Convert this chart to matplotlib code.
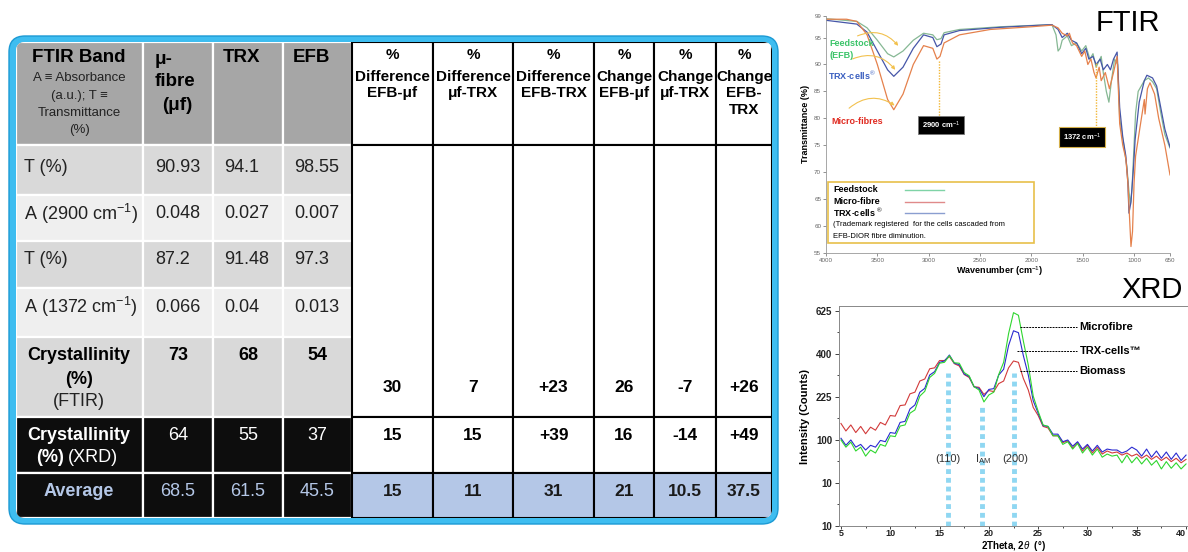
import numpy as np
import matplotlib
matplotlib.use("Agg")
import matplotlib.pyplot as plt
from matplotlib.patches import FancyBboxPatch, Rectangle, FancyArrowPatch

plt.rcParams['font.family'] = ['Liberation Sans', 'DejaVu Sans']
plt.rcParams['mathtext.fontset'] = 'custom'
plt.rcParams['mathtext.rm'] = 'Liberation Sans'
plt.rcParams['mathtext.it'] = 'Liberation Sans:italic'
plt.rcParams['mathtext.bf'] = 'Liberation Sans:bold'

# ---------------- table data ----------------
band_rows = ["T (%)", "A (2900 cm$^{-1}$)", "T (%)", "A (1372 cm$^{-1}$)"]
micro_fibre = [90.93, 0.048, 87.2, 0.066, 73, 64, 68.5]
trx_cells = [94.1, 0.027, 91.48, 0.04, 68, 55, 61.5]
efb = [98.55, 0.007, 97.3, 0.013, 54, 37, 45.5]
cmp_kind = ["Difference", "Difference", "Difference", "Change", "Change", "Change"]
cmp_pair = ["EFB-μf", "μf-TRX", "EFB-TRX", "EFB-μf", "μf-TRX", "EFB-\nTRX"]
cmp_ftir = ["30", "7", "+23", "26", "-7", "+26"]
cmp_xrd = ["15", "15", "+39", "16", "-14", "+49"]
cmp_avg = ["15", "11", "31", "21", "10.5", "37.5"]

# ---------------- FTIR spectra (wavenumber, transmittance %) ----------------
feed_wn = [4000, 3700, 3600, 3500, 3400, 3340, 3250, 3150, 3050, 2960, 2920, 2880, 2850,
           2700, 2300, 1800, 1760, 1740, 1720, 1700, 1650, 1610, 1560, 1510, 1470, 1430,
           1400, 1370, 1320, 1300, 1270, 1245, 1220, 1190, 1160, 1140, 1100, 1070, 1050,
           1035, 1020, 1000, 985, 960, 900, 860, 820, 780, 740, 700, 650]
feed_t = [98.5, 98.0, 96.8, 94.5, 92.0, 91.4, 92.5, 94.5, 95.8, 95.5, 94.6, 94.8, 95.9,
          96.5, 97.0, 97.4, 95.5, 92.5, 93.0, 94.5, 95.3, 93.5, 94.0, 92.5, 93.5, 91.0,
          92.0, 89.5, 91.5, 88.5, 85.0, 83.0, 87.0, 91.0, 90.0, 80.0, 75.0, 71.0, 66.5,
          64.0, 67.0, 75.0, 81.0, 85.0, 87.0, 87.5, 86.8, 85.5, 81.0, 77.0, 74.5]

micro_wn = [4000, 3800, 3700, 3600, 3500, 3400, 3340, 3250, 3150, 3050, 2960, 2920, 2890,
            2850, 2700, 2400, 2000, 1800, 1740, 1700, 1650, 1630, 1600, 1560, 1510, 1480,
            1450, 1420, 1390, 1370, 1340, 1320, 1280, 1240, 1200, 1165, 1140, 1110, 1080,
            1060, 1040, 1030, 1015, 1000, 985, 945, 900, 893, 870, 845, 800, 760, 700, 650]
micro_t = [98.4, 98.4, 98.0, 95.5, 90.0, 83.5, 81.6, 84.5, 90.0, 93.5, 93.0, 91.0, 91.5,
           94.0, 95.5, 96.5, 97.0, 97.3, 96.8, 95.8, 95.3, 95.8, 94.0, 93.5, 91.5, 92.5,
           90.0, 91.0, 88.5, 87.5, 89.5, 87.0, 88.5, 85.5, 88.5, 91.5, 79.0, 75.0, 72.5,
           68.0, 60.0, 56.2, 59.0, 68.0, 73.0, 78.0, 83.5, 80.8, 85.5, 86.6, 84.5, 80.0,
           75.0, 69.5]

trx_wn = [4000, 3700, 3600, 3500, 3400, 3340, 3250, 3150, 3050, 2960, 2920, 2880, 2850,
          2700, 2300, 1800, 1740, 1700, 1650, 1610, 1560, 1510, 1470, 1440, 1400, 1370,
          1330, 1300, 1260, 1230, 1200, 1165, 1140, 1110, 1080, 1060, 1050, 1030, 1005,
          990, 950, 900, 875, 820, 780, 740, 700, 650]
trx_t = [98.2, 97.5, 96.0, 92.5, 89.0, 87.8, 89.5, 93.0, 95.5, 95.0, 93.3, 93.8, 95.5,
         96.3, 96.9, 97.4, 96.5, 95.0, 95.8, 94.5, 94.0, 92.0, 93.0, 91.0, 91.5, 90.0,
         91.0, 89.0, 90.0, 89.0, 91.0, 92.3, 82.0, 76.5, 73.0, 68.0, 62.4, 64.5, 71.0,
         76.0, 83.0, 87.0, 88.0, 87.5, 86.0, 82.0, 78.0, 74.7]

# ---------------- XRD patterns (2theta, counts) ----------------
two_theta = [5.0, 5.5, 6.0, 6.5, 7.0, 7.5, 8.0, 8.5, 9.0, 9.5, 10.0, 10.5, 11.0, 11.5,
             12.0, 12.5, 13.0, 13.5, 14.0, 14.5, 15.0, 15.5, 16.0, 16.5, 17.0, 17.5,
             18.0, 18.5, 19.0, 19.5, 20.0, 20.5, 21.0, 21.5, 22.0, 22.5, 23.0, 23.5,
             24.0, 24.5, 25.0, 25.5, 26.0, 26.5, 27.0, 27.5, 28.0, 28.5, 29.0, 29.5,
             30.0, 30.5, 31.0, 31.5, 32.0, 32.5, 33.0, 33.5, 34.0, 34.5, 35.0, 35.5,
             36.0, 36.5, 37.0, 37.5, 38.0, 38.5, 39.0, 39.5, 40.0]
xrd_microfibre = [100, 84, 95, 76, 84, 66, 78, 72, 90, 86, 110, 108, 135, 138,
                  172, 182, 228, 245, 298, 315, 358, 362, 392, 360, 358, 318,
                  305, 262, 250, 208, 232, 242, 310, 362, 500, 615, 600, 462,
                  350, 228, 178, 138, 134, 110, 110, 90, 96, 80, 92, 72,
                  84, 68, 80, 64, 70, 66, 68, 54, 68, 54, 64, 52,
                  62, 50, 58, 44, 56, 45, 54, 44, 52]
xrd_trx = [104, 88, 100, 84, 90, 78, 88, 84, 99, 96, 118, 116, 145, 148,
           185, 198, 242, 256, 308, 322, 362, 368, 395, 358, 352, 312,
           302, 262, 256, 226, 252, 255, 308, 332, 440, 515, 505, 392,
           308, 212, 172, 136, 134, 114, 114, 96, 100, 86, 96, 80,
           90, 76, 88, 74, 80, 78, 78, 72, 76, 84, 78, 66,
           80, 64, 76, 62, 74, 60, 72, 58, 68]
xrd_biomass = [142, 122, 138, 118, 134, 115, 132, 124, 145, 138, 165, 163, 196, 198,
               236, 242, 284, 292, 334, 338, 370, 370, 388, 356, 346, 310,
               298, 262, 260, 234, 248, 244, 274, 284, 338, 368, 362, 294,
               250, 190, 165, 134, 130, 110, 110, 94, 98, 82, 94, 76,
               88, 72, 84, 70, 76, 72, 74, 68, 72, 66, 70, 62,
               68, 60, 66, 58, 64, 56, 62, 54, 60]
peak_positions = [15.85, 19.3, 22.5]
peak_labels = ["(110)", "I$_{\\rm AM}$", "(200)"]

W, H = 1188, 552
fig = plt.figure(figsize=(W / 100, H / 100), dpi=100)
fig.patch.set_facecolor('white')


def fig_rect(x0, y0, x1, y1):
    return [x0 / W, 1 - y1 / H, (x1 - x0) / W, (y1 - y0) / H]


# ---------------- FTIR panel ----------------
ax1 = fig.add_axes(fig_rect(826, 16, 1170, 253))
ax1.plot(feed_wn, feed_t, color='#86b894', lw=0.9)
ax1.plot(trx_wn, trx_t, color='#4656a8', lw=0.9)
ax1.plot(micro_wn, micro_t, color='#e5814c', lw=0.9)
ax1.set_xlim(4000, 650)
ax1.set_ylim(55, 99)
ax1.set_xticks([4000, 3500, 3000, 2500, 2000, 1500, 1000, 650])
ax1.set_yticks([55, 60, 65, 70, 75, 80, 85, 90, 95, 99])
ax1.tick_params(labelsize=4.5, colors='#666666', length=2, width=0.5, pad=1.5)
for s in ['top', 'right']:
    ax1.spines[s].set_visible(False)
for s in ['left', 'bottom']:
    ax1.spines[s].set_color('#999999')
    ax1.spines[s].set_linewidth(0.6)
ax1.patch.set_alpha(0)
ax1.plot([2900, 2900], [90.6, 80.3], color='#f2b736', lw=1.0, ls=(0, (1, 1)))
ax1.plot([1372, 1372], [90.3, 78.2], color='#f2b736', lw=1.0, ls=(0, (1, 1)))

# ---------------- XRD panel ----------------
ax2 = fig.add_axes(fig_rect(839, 306, 1188, 526))
ax2.set_yscale('function', functions=(lambda v: np.sqrt(np.clip(v, 0, None)),
                                      lambda v: np.square(v)))
ax2.plot(two_theta, xrd_biomass, color='#d23a3a', lw=0.8)
ax2.plot(two_theta, xrd_trx, color='#2a2ad0', lw=0.8)
ax2.plot(two_theta, xrd_microfibre, color='#2fd62f', lw=0.8)
for pos, top in zip(peak_positions, [317, 192, 317]):
    ax2.plot([pos, pos], [0, top], color='#8fd7f2', lw=3.5, ls=(0, (1, 0.8)),
             solid_capstyle='butt')
for pos, lab in zip([15.8, 19.4, 22.7], peak_labels):
    ax2.text(pos, 61, lab, ha='center', va='center', fontsize=8, color='#333333')
ax2.set_xlim(4.8, 40.2)
ax2.set_ylim(0, 654)
ax2.set_xticks([5, 10, 15, 20, 25, 30, 35, 40])
ax2.set_xticks([7.5, 12.5, 17.5, 22.5, 27.5, 32.5, 37.5], minor=True)
ax2.set_yticks([0, 25, 100, 225, 400, 625])
ax2.set_yticklabels(['10', '10', '100', '225', '400', '625'])
ax2.set_yticks([6.25, 56.25, 156.25, 306.25, 506.25], minor=True)
ax2.tick_params(labelsize=6.5, length=2, width=0.6, pad=0.5, colors='#222222')
ax2.tick_params(axis='y', length=3, pad=2, labelsize=7)
ax2.tick_params(which='minor', length=1.5, width=0.5)
for lab in ax2.get_xticklabels() + ax2.get_yticklabels():
    lab.set_fontweight('bold')
ax2.get_xticklabels()[-1].set_horizontalalignment('right')
for s in ax2.spines.values():
    s.set_color('#888888')
    s.set_linewidth(0.7)
ax2.set_ylabel("Intensity (Counts)", fontsize=8, fontweight='bold', labelpad=4)
leaders = [("Microfibre", 23.15, 535), ("TRX-cells™", 22.85, 414), ("Biomass", 23.15, 325)]
for name, x0, yv in leaders:
    ax2.plot([x0, 28.95], [yv, yv], color='black', lw=0.7, ls=(0, (2, 1)))
    ax2.text(29.2, yv, name, fontsize=8, fontweight='bold', va='center', ha='left')

# ---------------- overlay (table and annotations, pixel coordinates) ----------------
tab = fig.add_axes([0, 0, 1, 1])
tab.set_xlim(0, W)
tab.set_ylim(H, 0)
tab.axis('off')
tab.patch.set_alpha(0)

LEFT_X = [16, 143, 213, 283, 352]
RIGHT_X = [352, 433, 513, 594, 654, 716, 772]
ROW_Y = [42, 145, 195, 241, 288, 337, 417, 473, 518]

border = FancyBboxPatch((9, 36), 769, 488, boxstyle="round,pad=0,rounding_size=16",
                        fc='#3ebdf0', ec='#1c9ad4', lw=1.0)
tab.add_patch(border)
inner = FancyBboxPatch((16, 42), 756, 476, boxstyle="round,pad=0,rounding_size=9",
                       fc='white', ec='none')
tab.add_patch(inner)

left_fill = ['#a6a6a6', '#d9d9d9', '#efefef', '#d9d9d9', '#efefef', '#d9d9d9',
             '#0d0d0d', '#0d0d0d']
for r in range(8):
    y0, y1 = ROW_Y[r], ROW_Y[r + 1]
    for c in range(4):
        x0, x1 = LEFT_X[c], LEFT_X[c + 1]
        rect = Rectangle((x0, y0), x1 - x0, y1 - y0, fc=left_fill[r], ec='white', lw=1.6)
        tab.add_patch(rect)
        rect.set_clip_path(inner)

right_bands = [(42, 145, 'white'), (145, 417, 'white'), (417, 473, 'white'),
               (473, 518, '#b4c7e7')]
for c in range(6):
    x0, x1 = RIGHT_X[c], RIGHT_X[c + 1]
    for y0, y1, fc in right_bands:
        rect = Rectangle((x0, y0), x1 - x0, y1 - y0, fc=fc, ec='black', lw=1.5)
        tab.add_patch(rect)
        rect.set_clip_path(inner)


def txt(x, y, s, size=13, weight='normal', color='black', ha='left', **kw):
    tab.text(x, y, s, fontsize=size, fontweight=weight, color=color, ha=ha,
             va='center', **kw)


# left header
txt(79, 58, "FTIR Band", 13.5, 'bold', ha='center')
for yy, s in zip([78, 96, 113, 130], ["A ≡ Absorbance", "(a.u.); T ≡", "Transmittance", "(%)"]):
    txt(79, yy, s, 9.5, ha='center', color='#222222')
txt(155, 60, "μ-", 13.5, 'bold')
txt(155, 82, "fibre", 13.5, 'bold')
txt(162, 105, "(μf)", 13.5, 'bold')
txt(223, 58, "TRX", 13.5, 'bold')
txt(293, 58, "EFB", 13.5, 'bold')

# measured rows
val_x = [155, 224, 294]
row_text_y = [167, 214, 259, 307]
for i, label in enumerate(band_rows):
    yy = row_text_y[i]
    txt(24, yy, label, 13, color='#222222')
    for xx, series in zip(val_x, [micro_fibre, trx_cells, efb]):
        txt(xx, yy, f"{series[i]:g}", 13, color='#222222')

col_c = [(LEFT_X[i] + LEFT_X[i + 1]) / 2 for i in range(1, 4)]
# crystallinity from FTIR
txt(79, 356, "Crystallinity", 13, 'bold', ha='center')
txt(79, 379, "(%)", 13, 'bold', ha='center')
txt(79, 401, "(FTIR)", 13, ha='center', color='#222222')
for xx, series in zip(col_c, [micro_fibre, trx_cells, efb]):
    txt(xx, 356, f"{series[4]:g}", 13, 'bold', ha='center')
# crystallinity from XRD
txt(79, 435, "Crystallinity", 13, 'bold', ha='center', color='white')
txt(64, 458, "(%)", 13, 'bold', ha='right', color='white')
txt(68, 458, "(XRD)", 13, ha='left', color='white')
for xx, series in zip(col_c, [micro_fibre, trx_cells, efb]):
    txt(xx, 435, f"{series[5]:g}", 13, ha='center', color='white')
# average
txt(79, 492, "Average", 13, 'bold', ha='center', color='#b4c7e7')
for xx, series in zip(col_c, [micro_fibre, trx_cells, efb]):
    txt(xx, 492, f"{series[6]:g}", 13, ha='center', color='#b4c7e7')

# comparison columns
rc = [(RIGHT_X[i] + RIGHT_X[i + 1]) / 2 for i in range(6)]
for i in range(6):
    txt(rc[i], 55, "%", 11, 'bold', ha='center')
    txt(rc[i], 77, cmp_kind[i], 11, 'bold', ha='center')
    for k, part in enumerate(cmp_pair[i].split("\n")):
        txt(rc[i], 93 + 17 * k, part, 11, 'bold', ha='center')
    txt(rc[i], 388, cmp_ftir[i], 12.5, 'bold', ha='center')
    txt(rc[i], 435, cmp_xrd[i], 12.5, 'bold', ha='center')
    txt(rc[i], 492, cmp_avg[i], 12.5, 'bold', ha='center', color='#1a1a1a')

# panel titles and axis label of the XRD panel
txt(1128, 23, "FTIR", 21, ha='center')
txt(1152, 290, "XRD", 21, ha='center')
txt(1013, 546, "2Theta, 2$\\theta$  (°)", 7, 'bold', ha='center')

# FTIR annotations
txt(829, 44, "Feedstock", 6.5, 'bold', color='#3cc46a')
txt(829, 55, "(EFB)", 6.5, 'bold', color='#3cc46a')
txt(828, 76, "TRX-cells$^{®}$", 6.5, 'bold', color='#3a5fc0')
txt(831, 121, "Micro-fibres", 6.5, 'bold', color='#e02a20')
for a, b in [((855, 37), (900, 48)), ((850, 60), (897, 72)), ((847, 110), (897, 107))]:
    tab.add_patch(FancyArrowPatch(a, b, connectionstyle="arc3,rad=-0.4", arrowstyle='-|>',
                                  mutation_scale=5, color='#f2c14e', lw=0.8))
tab.text(941, 125, "2900 cm$^{-1}$", fontsize=5.5, fontweight='bold', color='white',
         ha='center', va='center',
         bbox=dict(boxstyle='square,pad=0.5', fc='black', ec='#777777', lw=0.6))
tab.text(1082, 137, "1372 cm$^{-1}$", fontsize=5.5, fontweight='bold', color='white',
         ha='center', va='center',
         bbox=dict(boxstyle='square,pad=0.55', fc='black', ec='#d4b04a', lw=0.8))
txt(806, 124, "Transmittance (%)", 6.5, 'bold', ha='center', rotation=90)
txt(1000, 271, "Wavenumber (cm$^{-1}$)", 6.5, 'bold', ha='center')

# FTIR legend box
tab.add_patch(Rectangle((828, 182), 206, 61, fc='white', ec='#e8c04a', lw=1.2))
for yy, name, col in [(190, "Feedstock", '#7fd3a6'), (202, "Micro-fibre", '#e08a8a'),
                      (213, "TRX-cells $^{®}$", '#8a9ed0')]:
    txt(833, yy, name, 6.5, 'bold')
    tab.plot([905, 944], [yy, yy], color=col, lw=1.0)
txt(833, 225, "(Trademark registered  for the cells cascaded from", 5.5)
txt(833, 236, "EFB-DIOR fibre diminution.", 5.5)

fig.savefig("out.png", dpi=100)
